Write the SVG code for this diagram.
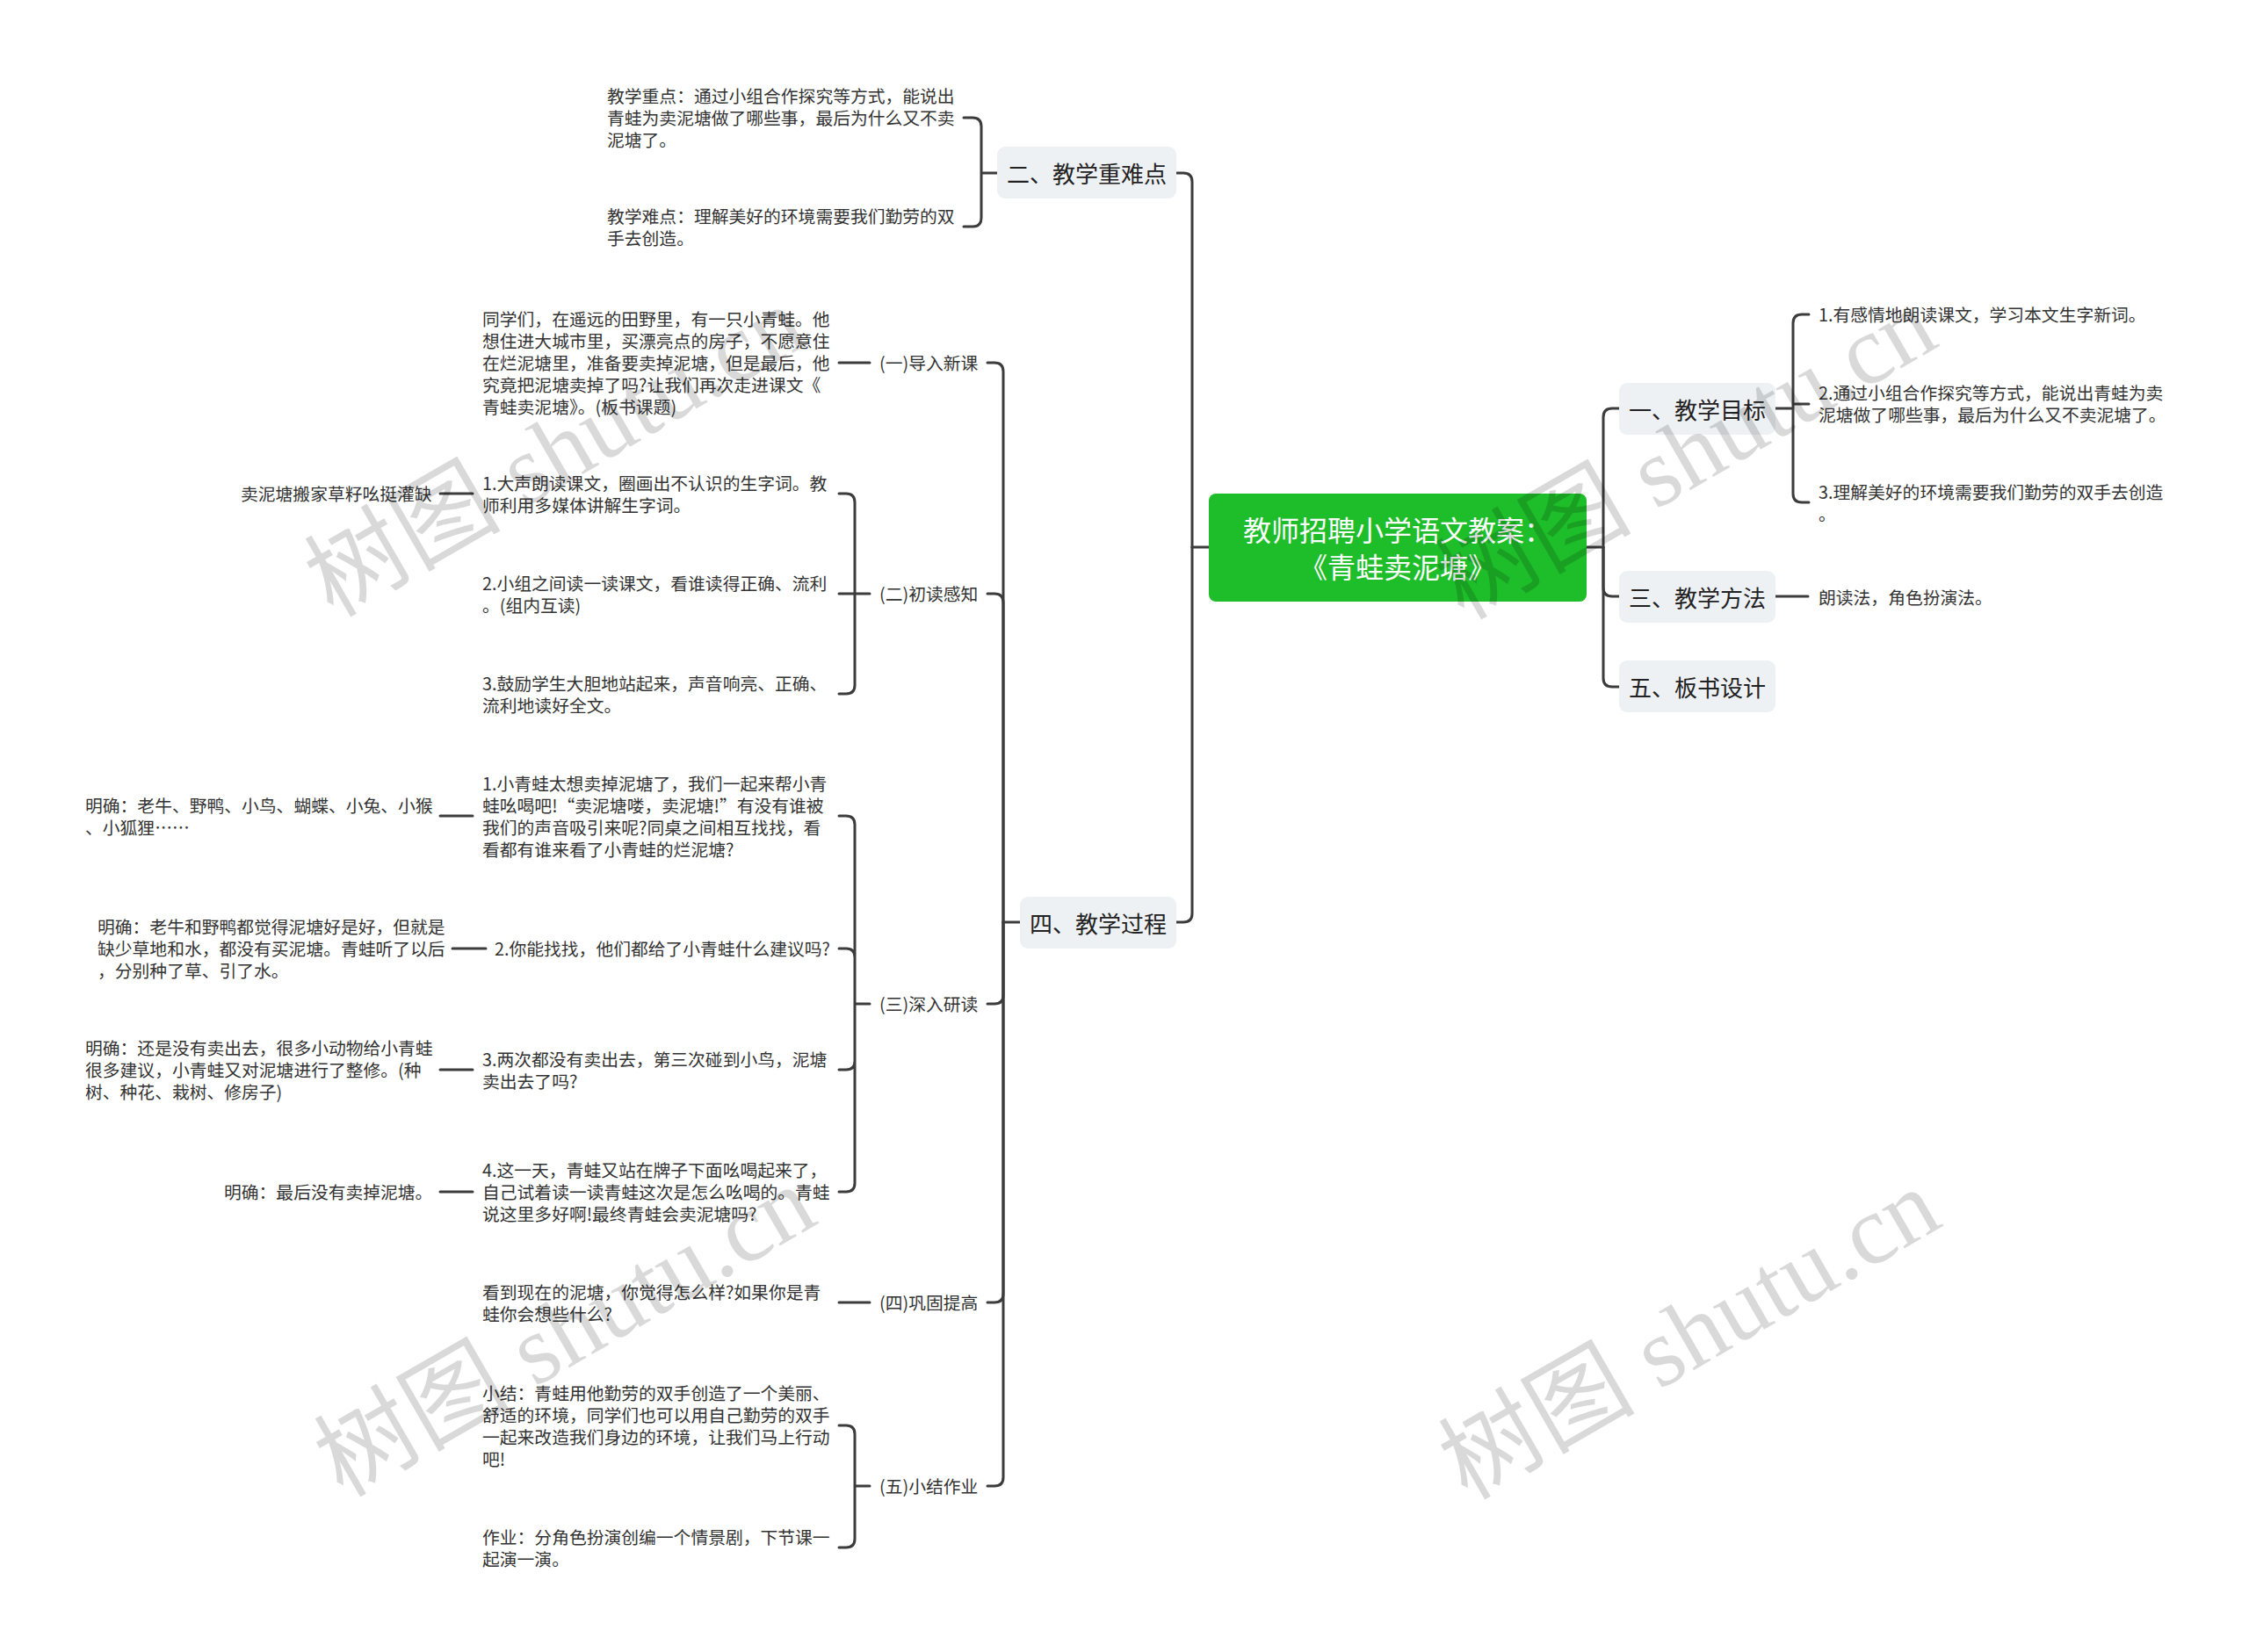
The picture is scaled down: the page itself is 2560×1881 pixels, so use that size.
<svg xmlns="http://www.w3.org/2000/svg" width="2560" height="1881" viewBox="0 0 2560 1881">
<style>
.c{fill:none;stroke:#3c3c3c;stroke-width:3;stroke-linecap:round;stroke-linejoin:round}
.t{font-family:"Noto Sans CJK SC","Noto Sans",sans-serif;font-size:19.8px;fill:#333;dominant-baseline:central}
.l1{font-family:"Noto Sans CJK SC","Noto Sans",sans-serif;font-size:26px;fill:#222;dominant-baseline:central;text-anchor:middle}
.rt{font-family:"Noto Sans CJK SC","Noto Sans",sans-serif;font-size:32px;fill:#fff;dominant-baseline:central;text-anchor:middle}
.box{fill:#eef1f4}
.wm{font-family:"Liberation Serif","Noto Sans CJK SC",serif;font-size:112px;fill:#000;fill-opacity:0.15;text-anchor:middle;dominant-baseline:central}
</style>
<rect width="2560" height="1881" fill="#fff"/>
<g id="connectors">
<path class="c" d="M1376,623 H1357 M1806,623 H1825"/>
<path class="c" d="M1357,623 V207 Q1357,197 1347,197 H1339"/>
<path class="c" d="M1357,623 V1040 Q1357,1050 1347,1050 H1339"/>
<path class="c" d="M1825,623 V475 Q1825,465 1835,465 H1843"/>
<path class="c" d="M1825,623 V669 Q1825,679 1835,679 H1843"/>
<path class="c" d="M1825,623 V772 Q1825,782 1835,782 H1843"/>
<path class="c" d="M1135,197 H1117 M1117,197 V144 Q1117,134 1107,134 H1097 M1117,197 V248 Q1117,258 1107,258 H1097"/>
<path class="c" d="M1161,1050 H1142"/>
<path class="c" d="M1142,1050 V423 Q1142,413 1132,413 H1124"/>
<path class="c" d="M1142,1050 V686 Q1142,676 1132,676 H1124"/>
<path class="c" d="M1142,1050 V1133 Q1142,1143 1132,1143 H1124"/>
<path class="c" d="M1142,1050 V1473 Q1142,1483 1132,1483 H1124"/>
<path class="c" d="M1142,1050 V1682 Q1142,1692 1132,1692 H1124"/>
<path class="c" d="M990,413 H955"/>
<path class="c" d="M990,676 H973 M973,676 V572 Q973,562 963,562 H955 M973,676 H955 M973,676 V780 Q973,790 963,790 H955"/>
<path class="c" d="M990,1143 H973 M973,1143 V939 Q973,929 963,929 H955 M973,1143 V1090 Q973,1080 963,1080 H955 M973,1143 V1208 Q973,1218 963,1218 H955 M973,1143 V1347 Q973,1357 963,1357 H955"/>
<path class="c" d="M990,1483 H955"/>
<path class="c" d="M990,1692 H973 M973,1692 V1633 Q973,1623 963,1623 H955 M973,1692 V1752 Q973,1762 963,1762 H955"/>
<path class="c" d="M501,562 H538 M501,929 H538 M515,1080 H553 M501,1218 H538 M501,1357 H538"/>
<path class="c" d="M2021,465 H2041 M2041,465 V368 Q2041,358 2051,358 H2059 M2041,460 H2059 M2041,465 V562 Q2041,572 2051,572 H2059"/>
<path class="c" d="M2021,679 H2058"/>
</g>
<g id="root">
<rect x="1376" y="562" width="430" height="123" rx="8" fill="#1ebd2a"/>
<text class="rt" x="1591" y="602">教师招聘小学语文教案：</text>
<text class="rt" x="1591" y="644">《青蛙卖泥塘》</text>
</g>
<g id="n-b2">
<rect class="box" x="1135" y="167" width="204" height="59" rx="9"/>
<text class="l1" x="1237" y="196">二、教学重难点</text>
</g>
<g id="n-b2-1"><text class="t" x="691" y="108">教学重点：通过小组合作探究等方式，能说出</text><text class="t" x="691" y="133">青蛙为卖泥塘做了哪些事，最后为什么又不卖</text><text class="t" x="691" y="158">泥塘了。</text></g>
<g id="n-b2-2"><text class="t" x="691" y="245">教学难点：理解美好的环境需要我们勤劳的双</text><text class="t" x="691" y="270">手去创造。</text></g>
<g id="n-b4">
<rect class="box" x="1161" y="1021" width="178" height="59" rx="9"/>
<text class="l1" x="1250" y="1050">四、教学过程</text>
</g>
<g id="n-s1"><text class="t" x="1001" y="412">(一)导入新课</text></g>
<g id="n-s1-1">
<text class="t" x="549" y="362">同学们，在遥远的田野里，有一只小青蛙。他</text>
<text class="t" x="549" y="387">想住进大城市里，买漂亮点的房子，不愿意住</text>
<text class="t" x="549" y="412">在烂泥塘里，准备要卖掉泥塘，但是最后，他</text>
<text class="t" x="549" y="437">究竟把泥塘卖掉了吗?让我们再次走进课文《</text>
<text class="t" x="549" y="462">青蛙卖泥塘》。(板书课题)</text>
</g>
<g id="n-s2"><text class="t" x="1001" y="675">(二)初读感知</text></g>
<g id="n-s2-1"><text class="t" x="549" y="549">1.大声朗读课文，圈画出不认识的生字词。教</text><text class="t" x="549" y="574">师利用多媒体讲解生字词。</text></g>
<g id="n-s2-1-1"><text class="t" x="274" y="561">卖泥塘搬家草籽吆挺灌缺</text></g>
<g id="n-s2-2"><text class="t" x="549" y="663">2.小组之间读一读课文，看谁读得正确、流利</text><text class="t" x="549" y="688">。(组内互读)</text></g>
<g id="n-s2-3"><text class="t" x="549" y="777">3.鼓励学生大胆地站起来，声音响亮、正确、</text><text class="t" x="549" y="802">流利地读好全文。</text></g>
<g id="n-s3"><text class="t" x="1001" y="1142">(三)深入研读</text></g>
<g id="n-s3-1">
<text class="t" x="549" y="891">1.小青蛙太想卖掉泥塘了，我们一起来帮小青</text>
<text class="t" x="549" y="916">蛙吆喝吧!“卖泥塘喽，卖泥塘!”有没有谁被</text>
<text class="t" x="549" y="941">我们的声音吸引来呢?同桌之间相互找找，看</text>
<text class="t" x="549" y="966">看都有谁来看了小青蛙的烂泥塘?</text>
</g>
<g id="n-s3-1-1"><text class="t" x="97" y="916">明确：老牛、野鸭、小鸟、蝴蝶、小兔、小猴</text><text class="t" x="97" y="941">、小狐狸……</text></g>
<g id="n-s3-2"><text class="t" x="563" y="1079">2.你能找找，他们都给了小青蛙什么建议吗?</text></g>
<g id="n-s3-2-1"><text class="t" x="111" y="1054">明确：老牛和野鸭都觉得泥塘好是好，但就是</text><text class="t" x="111" y="1079">缺少草地和水，都没有买泥塘。青蛙听了以后</text><text class="t" x="111" y="1104">，分别种了草、引了水。</text></g>
<g id="n-s3-3"><text class="t" x="549" y="1205">3.两次都没有卖出去，第三次碰到小鸟，泥塘</text><text class="t" x="549" y="1230">卖出去了吗?</text></g>
<g id="n-s3-3-1"><text class="t" x="97" y="1192">明确：还是没有卖出去，很多小动物给小青蛙</text><text class="t" x="97" y="1217">很多建议，小青蛙又对泥塘进行了整修。(种</text><text class="t" x="97" y="1242">树、种花、栽树、修房子)</text></g>
<g id="n-s3-4"><text class="t" x="549" y="1331">4.这一天，青蛙又站在牌子下面吆喝起来了，</text><text class="t" x="549" y="1356">自己试着读一读青蛙这次是怎么吆喝的。青蛙</text><text class="t" x="549" y="1381">说这里多好啊!最终青蛙会卖泥塘吗?</text></g>
<g id="n-s3-4-1"><text class="t" x="255" y="1356">明确：最后没有卖掉泥塘。</text></g>
<g id="n-s4"><text class="t" x="1001" y="1482">(四)巩固提高</text></g>
<g id="n-s4-1"><text class="t" x="549" y="1470">看到现在的泥塘，你觉得怎么样?如果你是青</text><text class="t" x="549" y="1495">蛙你会想些什么?</text></g>
<g id="n-s5"><text class="t" x="1001" y="1691">(五)小结作业</text></g>
<g id="n-s5-1">
<text class="t" x="549" y="1585">小结：青蛙用他勤劳的双手创造了一个美丽、</text>
<text class="t" x="549" y="1610">舒适的环境，同学们也可以用自己勤劳的双手</text>
<text class="t" x="549" y="1635">一起来改造我们身边的环境，让我们马上行动</text>
<text class="t" x="549" y="1660">吧!</text>
</g>
<g id="n-s5-2"><text class="t" x="549" y="1749">作业：分角色扮演创编一个情景剧，下节课一</text><text class="t" x="549" y="1774">起演一演。</text></g>
<g id="n-b1">
<rect class="box" x="1843" y="436" width="178" height="59" rx="9"/>
<text class="l1" x="1932" y="465">一、教学目标</text>
</g>
<g id="n-b1-1"><text class="t" x="2070" y="357">1.有感情地朗读课文，学习本文生字新词。</text></g>
<g id="n-b1-2"><text class="t" x="2070" y="446">2.通过小组合作探究等方式，能说出青蛙为卖</text><text class="t" x="2070" y="471">泥塘做了哪些事，最后为什么又不卖泥塘了。</text></g>
<g id="n-b1-3"><text class="t" x="2070" y="559">3.理解美好的环境需要我们勤劳的双手去创造</text><text class="t" x="2070" y="584">。</text></g>
<g id="n-b3">
<rect class="box" x="1843" y="650" width="178" height="59" rx="9"/>
<text class="l1" x="1932" y="679">三、教学方法</text>
</g>
<g id="n-b3-1"><text class="t" x="2070" y="679">朗读法，角色扮演法。</text></g>
<g id="n-b5">
<rect class="box" x="1843" y="752" width="178" height="59" rx="9"/>
<text class="l1" x="1932" y="781">五、板书设计</text>
</g>
<g id="watermarks">
<text class="wm" transform="translate(632,514) rotate(-30)">树图 shutu.cn</text>
<text class="wm" transform="translate(643,1516) rotate(-30)">树图 shutu.cn</text>
<text class="wm" transform="translate(1919,517) rotate(-30)">树图 shutu.cn</text>
<text class="wm" transform="translate(1923,1519) rotate(-30)">树图 shutu.cn</text>
</g>
</svg>
